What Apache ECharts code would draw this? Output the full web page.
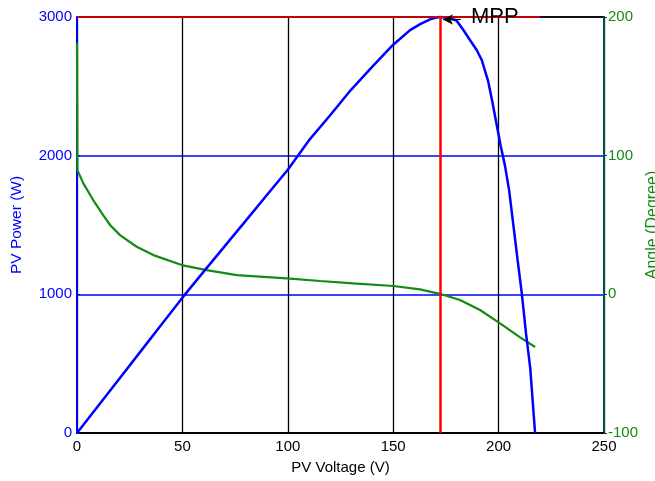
<!DOCTYPE html>
<html>
<head>
<meta charset="utf-8">
<script src="https://cdn.jsdelivr.net/npm/echarts@6/dist/echarts.min.js"></script>
<style>
  html, body { margin: 0; padding: 0; background: #fff; }
  #chart { width: 655px; height: 481px; }
</style>
</head>
<body>
<div id="chart"></div>
<script>
// PV power curve (V, W)
const powerVoltage = [0, 10, 20, 30, 40, 50, 60, 70, 80, 90, 100, 110, 120, 130, 140, 150, 158, 163, 167.5, 170, 172.2, 176, 180, 183.3, 186.4, 189.6, 192, 195, 197, 199, 201, 203, 205, 207, 209, 211, 213, 215, 217.3];
const powerWatts   = [0, 195, 390, 585, 780, 976, 1162, 1346, 1530, 1714, 1898, 2110, 2290, 2475, 2640, 2800, 2905, 2950, 2983, 2995, 3000, 2995, 2975, 2906, 2834, 2762, 2690, 2540, 2390, 2230, 2070, 1930, 1750, 1500, 1250, 1007, 720, 470, 0];

// Angle curve (V, degree)
const angleVoltage = [0, 0.2, 3, 7.7, 12.5, 15.7, 20.4, 28.3, 36.2, 49.7, 61.5, 75.8, 99.5, 115.3, 131.1, 150, 162.7, 172.5, 181.7, 191.2, 200.7, 210.2, 217.3];
const angleDegree  = [181, 89.6, 80, 68, 57, 50, 42.7, 34.3, 28.3, 21.1, 17.5, 13.9, 11.5, 9.6, 7.9, 6, 3.6, 0.2, -4.1, -11.3, -20.9, -31, -38];

// MPP marker
const mppVoltage = 172.2;
const mppPower = 3000;
const mppLineEnd = 219.6;

const xTicks = [0, 50, 100, 150, 200, 250];
const powerTicks = [0, 1000, 2000, 3000];
const angleTicks = [-100, 0, 100, 200];

const FONT = 'Liberation Sans, Arial, Helvetica, sans-serif';
const BLUE = '#0000ff';
const GREEN = '#138a13';
const RED = '#ff0000';
const FS = 15;

const chart = echarts.init(document.getElementById('chart'), null, { renderer: 'canvas' });

const powerData = powerVoltage.map((v, i) => [v, powerWatts[i]]);
const angleData = angleVoltage.map((v, i) => [v, angleDegree[i]]);
const plain = v => String(v);

chart.setOption({
  animation: false,
  backgroundColor: '#fff',
  textStyle: { fontFamily: FONT },
  grid: {
    left: 77, right: 51, top: 17, bottom: 48,
    containLabel: false, outerBoundsMode: 'none',
    show: true, borderColor: '#000', borderWidth: 1.5, backgroundColor: 'transparent'
  },
  xAxis: {
    type: 'value',
    min: xTicks[0], max: xTicks[xTicks.length - 1], interval: 50,
    name: 'PV Voltage (V)', nameLocation: 'middle', nameGap: 27,
    nameTextStyle: { color: '#000', fontSize: FS, fontFamily: FONT },
    axisLine: { show: true, onZero: false, lineStyle: { color: '#000', width: 2 } },
    axisTick: { show: false },
    axisLabel: { color: '#000', fontSize: FS, fontFamily: FONT, margin: 6, formatter: plain },
    splitLine: { show: true, lineStyle: { color: '#000', width: 1.3 } }
  },
  yAxis: [
    {
      type: 'value', position: 'left',
      min: powerTicks[0], max: powerTicks[powerTicks.length - 1], interval: 1000,
      name: 'PV Power (W)', nameLocation: 'middle', nameGap: 52, nameRotate: 90,
      nameTextStyle: { color: BLUE, fontSize: 15.5, fontFamily: FONT },
      axisLine: { show: true, onZero: false, lineStyle: { color: BLUE, width: 2 } },
      axisTick: { show: true, inside: true, length: 3, lineStyle: { color: BLUE } },
      axisLabel: { color: BLUE, fontSize: FS, fontFamily: FONT, margin: 5, formatter: plain },
      splitLine: { show: true, lineStyle: { color: [BLUE, BLUE, BLUE, '#000010'], width: 1.5 } }
    },
    {
      type: 'value', position: 'right',
      min: angleTicks[0], max: angleTicks[angleTicks.length - 1], interval: 100,
      name: 'Angle (Degree)', nameLocation: 'middle', nameGap: 41, nameRotate: 90,
      nameMoveOverlap: false,
      nameTextStyle: { color: GREEN, fontSize: 16, fontFamily: FONT },
      axisLine: { show: true, onZero: false, lineStyle: { color: '#00504a', width: 2 } },
      axisTick: { show: true, inside: false, length: 3, lineStyle: { color: '#00504a' } },
      axisLabel: { color: GREEN, fontSize: FS, fontFamily: FONT, margin: 4, formatter: plain },
      splitLine: { show: false }
    }
  ],
  series: [
    {
      name: 'Angle', type: 'line', yAxisIndex: 1, data: angleData,
      smooth: false, showSymbol: false, symbol: 'none',
      lineStyle: { color: GREEN, width: 2.2 }, z: 3
    },
    {
      name: 'Power', type: 'line', yAxisIndex: 0, data: powerData,
      smooth: false, showSymbol: false, symbol: 'none', clip: false,
      lineStyle: { color: BLUE, width: 2.5 }, z: 4,
      markLine: {
        silent: true, symbol: 'none', animation: false,
        label: { show: false },
        data: [
          [{ coord: [mppVoltage, 0], lineStyle: { color: RED, width: 2.5, type: 'solid' } },
           { coord: [mppVoltage, mppPower] }],
          [{ coord: [0, mppPower], lineStyle: { color: RED, width: 1.5, type: 'solid' } },
           { coord: [mppLineEnd, mppPower] }],
          [{ coord: [182, 2982], symbol: 'none', lineStyle: { color: '#000', width: 1.2, type: 'solid' } },
           { coord: [173.6, 2982], symbol: 'arrow', symbolSize: [8, 10] }]
        ]
      },
      markPoint: {
        silent: true, animation: false,
        symbol: 'circle', symbolSize: 2,
        itemStyle: { color: 'rgba(0,0,0,0)' },
        data: [{
          coord: [186.4, 2990],
          label: {
            show: true, formatter: 'MPP', position: 'right', distance: 0,
            offset: [0, -1],
            color: '#000', fontSize: 22, fontFamily: FONT
          }
        }]
      }
    }
  ]
});
</script>
</body>
</html>
